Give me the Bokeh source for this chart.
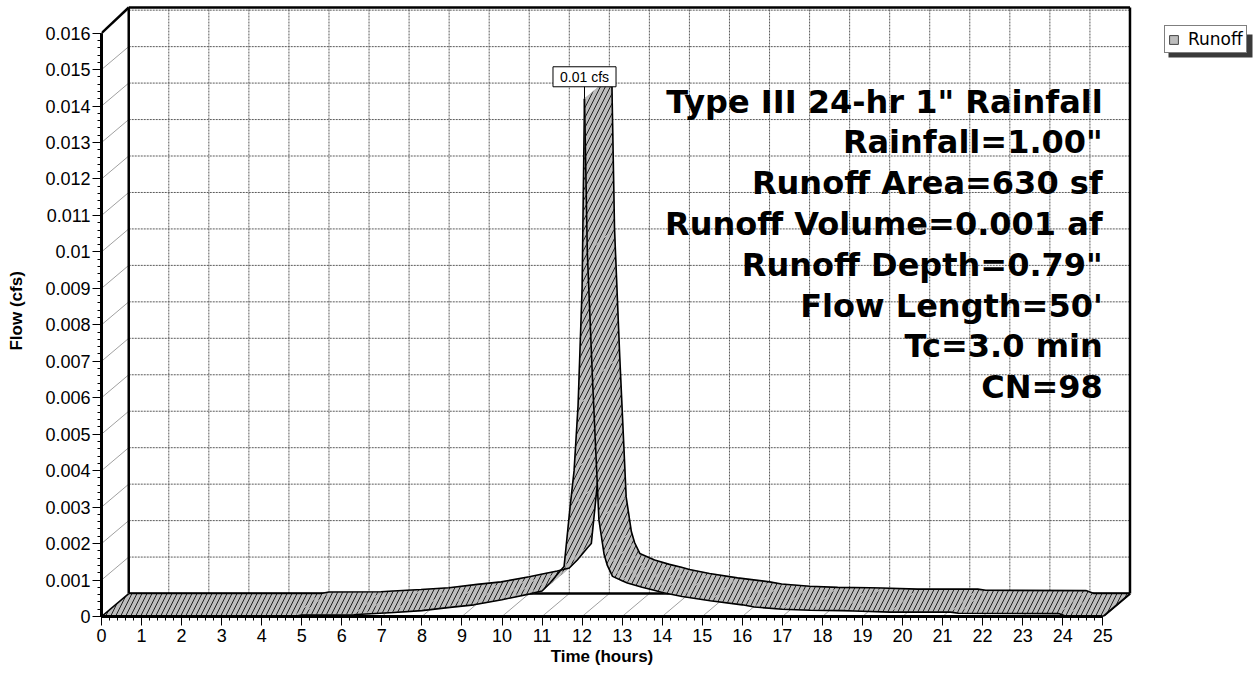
from bokeh.plotting import figure
from bokeh.models import (Range1d, FixedTicker, Label, Legend, LegendItem,
                          BoxAnnotation, Title)
from bokeh.embed import file_html
from bokeh.resources import INLINE

# ---------------- data ----------------
time_hr = [0.0, 4.8, 5.0, 6.3, 6.6, 7.3, 8.0, 8.7, 9.3, 10.0, 10.3, 10.7, 11.0,
           11.2, 11.45, 11.55, 11.70, 11.80, 11.90, 12.00, 12.06, 12.13, 12.26,
           12.42, 12.55, 12.63, 12.76, 13.0, 13.13, 13.5, 13.8, 14.0, 14.5, 15.2,
           16.0, 16.3, 17.0, 17.7, 18.5, 18.8, 19.7, 21.2, 21.4, 23.9, 24.1, 25.0]
flow_cfs = [0.0, 0.0, 0.00004, 0.00005, 0.00007, 0.00011, 0.00016, 0.00025,
            0.00032, 0.00046, 0.00053, 0.00062, 0.00070, 0.00092, 0.00125,
            0.00137, 0.0030, 0.0040, 0.0058, 0.0090, 0.0142, 0.0100, 0.0065,
            0.00265, 0.0017, 0.0014, 0.0011, 0.00098, 0.00092, 0.00080, 0.00072,
            0.00066, 0.00055, 0.00043, 0.00032, 0.00026, 0.00020, 0.00017,
            0.00016, 0.00015, 0.00012, 0.00012, 0.00009, 0.00008, 0.0, 0.0]

x_tick_labels = ["0", "1", "2", "3", "4", "5", "6", "7", "8", "9", "10", "11", "12",
                 "13", "14", "15", "16", "17", "18", "19", "20", "21", "22", "23",
                 "24", "25"]
y_tick_labels = ["0", "0.001", "0.002", "0.003", "0.004", "0.005", "0.006", "0.007",
                 "0.008", "0.009", "0.01", "0.011", "0.012", "0.013", "0.014",
                 "0.015", "0.016"]

info_lines = ['Type III 24-hr 1" Rainfall', 'Rainfall=1.00"', 'Runoff Area=630 sf',
              'Runoff Volume=0.001 af', 'Runoff Depth=0.79"', "Flow Length=50'",
              'Tc=3.0 min', 'CN=98']
peak_label = "0.01 cfs"
series_name = "Runoff"
x_title = "Time  (hours)"
y_title = "Flow  (cfs)"

# ---------------- geometry / style ----------------
x_ticks = [float(s) for s in x_tick_labels]
y_ticks = [float(s) for s in y_tick_labels]
X_MAX = x_ticks[-1]
Y_MAX = y_ticks[-1]
DX = 0.68        # depth offset (hours)
DY = 0.00063     # depth offset (cfs)
X_END = X_MAX + DX          # back-wall right edge

W, H = 1258, 674
LEFT, BOTTOM = 101, 58
PX_PER_HR = 40.05
PX_PER_CFS = 36460.0
X_RANGE_END = (W - LEFT) / PX_PER_HR
Y_END = (H - BOTTOM) / PX_PER_CFS
WALL_TOP = Y_END - 7 / PX_PER_CFS
FRAME_H = H - BOTTOM

p = figure(width=W, height=H, x_range=Range1d(0, X_RANGE_END), y_range=Range1d(0, Y_END),
           output_backend="svg", toolbar_location=None,
           min_border_left=LEFT, min_border_right=0,
           min_border_top=0, min_border_bottom=BOTTOM)
p.outline_line_color = None
p.grid.visible = False
p.background_fill_color = "white"
p.border_fill_color = "white"

GRID = "#5a5a5a"
DIAG = "#a0a0a0"

# back wall grid
vx = x_ticks[1:-1]
p.segment(x0=[h + DX for h in vx], y0=[DY] * len(vx), x1=[h + DX for h in vx],
          y1=[WALL_TOP] * len(vx), line_color=GRID, line_width=1, line_dash="2 1")
hy = y_ticks[1:]
p.segment(x0=[DX] * len(hy), y0=[q + DY for q in hy], x1=[X_END] * len(hy),
          y1=[q + DY for q in hy], line_color=GRID, line_width=1, line_dash="2 1")
# left wall and floor diagonals
dy_ = y_ticks[1:-1]
p.segment(x0=[0] * len(dy_), y0=dy_, x1=[DX] * len(dy_), y1=[q + DY for q in dy_],
          line_color=DIAG, line_width=1)
dx_ = x_ticks[1:-1]
p.segment(x0=dx_, y0=[0] * len(dx_), x1=[h + DX for h in dx_], y1=[DY] * len(dx_),
          line_color=DIAG, line_width=1)
# back wall frame
p.segment(x0=[DX, DX, X_END, DX], y0=[DY, WALL_TOP, DY, DY],
          x1=[DX, X_END, X_END, X_END], y1=[WALL_TOP, WALL_TOP, WALL_TOP, DY],
          line_color="black", line_width=2.5)
# box diagonals (top-left, bottom-right)
p.segment(x0=[0, X_MAX], y0=[Y_MAX, 0], x1=[DX, X_END], y1=[WALL_TOP, DY],
          line_color="black", line_width=2.5)

# ---------------- 3-D ribbon ----------------
ipk = flow_cfs.index(max(flow_cfs))
FILL = "#bdbdbd"


def ribbon(i0, i1):
    xs, ys = [], []
    for i in range(i0, i1):
        x0, x1 = time_hr[i], time_hr[i + 1]
        y0, y1 = flow_cfs[i], flow_cfs[i + 1]
        xs.append([x0, x1, x1 + DX, x0 + DX])
        ys.append([y0, y1, y1 + DY, y0 + DY])
    r = p.patches(xs, ys, fill_color=FILL, line_color=FILL, line_width=0.6,
                  hatch_pattern="/", hatch_color="#1e1e1e", hatch_scale=10,
                  hatch_weight=1)
    t = time_hr[i0:i1 + 1]
    q = flow_cfs[i0:i1 + 1]
    p.line(t, q, line_color="black", line_width=1.6)
    p.line([v + DX for v in t], [v + DY for v in q], line_color="black", line_width=1.6)
    return r


ribbon(0, ipk)
ribbon(ipk, len(time_hr) - 1)
p.segment(x0=[time_hr[0], time_hr[-1]], y0=[flow_cfs[0], flow_cfs[-1]],
          x1=[time_hr[0] + DX, time_hr[-1] + DX], y1=[flow_cfs[0] + DY, flow_cfs[-1] + DY],
          line_color="black", line_width=1.6)

# peak label
p.segment(x0=[time_hr[ipk]], y0=[flow_cfs[ipk]], x1=[time_hr[ipk]],
          y1=[flow_cfs[ipk] + 0.0006], line_color="black", line_width=1)
p.add_layout(Label(x=time_hr[ipk], y=flow_cfs[ipk], y_offset=22, text=peak_label,
                   text_align="center", text_baseline="middle",
                   text_font="Liberation Sans", text_font_size="14px",
                   text_color="black",
                   background_fill_color="white", background_fill_alpha=1,
                   border_line_color="black", border_line_width=1,
                   padding=(7, 2)))

# info text block (right-aligned on the end of the time axis)
for i, s in enumerate(info_lines):
    p.add_layout(Label(x=X_MAX, y=FRAME_H - 101 - 40.8 * i, x_units="data",
                       y_units="screen", text=s, text_align="right",
                       text_baseline="alphabetic", text_font="DejaVu Sans",
                       text_font_style="bold", text_font_size="32px",
                       text_color="black"))

# ---------------- axes ----------------
minor_y = [k * 0.0002 for k in range(0, 81)]
minor_x = [k * 0.2 for k in range(0, 126)]
p.yaxis.ticker = FixedTicker(ticks=y_ticks, minor_ticks=minor_y)
p.xaxis.ticker = FixedTicker(ticks=x_ticks, minor_ticks=minor_x)
p.yaxis.major_label_overrides = {v: s for v, s in zip(y_ticks, y_tick_labels)}
p.xaxis.major_label_overrides = {v: s for v, s in zip(x_ticks, x_tick_labels)}
p.yaxis.bounds = (0, Y_MAX)
p.xaxis.bounds = (0, X_MAX)
for ax in (p.xaxis[0], p.yaxis[0]):
    ax.axis_line_width = 3
    ax.axis_line_color = "black"
    ax.major_tick_in = 0
    ax.minor_tick_in = 0
    ax.major_tick_line_color = "black"
    ax.minor_tick_line_color = "black"
    ax.major_label_text_font = "Liberation Sans"
    ax.major_label_text_font_size = "18px"
    ax.major_label_text_color = "black"
    ax.axis_label_text_font = "Liberation Sans"
    ax.axis_label_text_font_style = "bold"
    ax.axis_label_text_font_size = "17px"
    ax.axis_label_text_color = "black"
p.yaxis.major_tick_out = 9
p.yaxis.minor_tick_out = 4
p.yaxis.major_label_standoff = 2
p.yaxis.axis_label = y_title
p.yaxis.axis_label_standoff = 16
p.xaxis.major_tick_out = 9
p.xaxis.minor_tick_out = 4
p.xaxis.major_label_standoff = 3

# x title centred under the time axis itself (0..25), not the whole frame
x_title_width = 103
p.add_layout(Title(text=x_title, align="left",
                   offset=(X_MAX * PX_PER_HR) / 2 - x_title_width / 2,
                   text_font="Liberation Sans", text_font_style="bold",
                   text_font_size="17px", text_color="black", standoff=0),
             "below")

# legend (inside the frame, right of the back wall) with a drop shadow
swatch = p.patches(xs=[[]], ys=[[]], fill_color=FILL, line_color="#444444")
LG_X, LG_Y, LG_W, LG_H = 1063, 563, 84, 23
p.add_layout(BoxAnnotation(left=LG_X + 4, right=LG_X + LG_W + 4, bottom=LG_Y - 4,
                           top=LG_Y + LG_H - 4, left_units="screen",
                           right_units="screen", bottom_units="screen",
                           top_units="screen", fill_color="#3a3a3a", fill_alpha=1,
                           line_color=None))
legend = Legend(items=[LegendItem(label=series_name, renderers=[swatch])],
                location=(LG_X, LG_Y))
legend.border_line_color = "black"
legend.border_line_width = 1
legend.background_fill_color = "white"
legend.background_fill_alpha = 1
legend.label_text_font = "DejaVu Sans"
legend.label_text_font_size = "17px"
legend.label_text_color = "black"
legend.glyph_width = 11
legend.glyph_height = 11
legend.label_height = 11
legend.label_standoff = 9
legend.padding = 3
legend.margin = 0
legend.spacing = 0
p.add_layout(legend)

open("out.html", "w").write(file_html(p, INLINE))
